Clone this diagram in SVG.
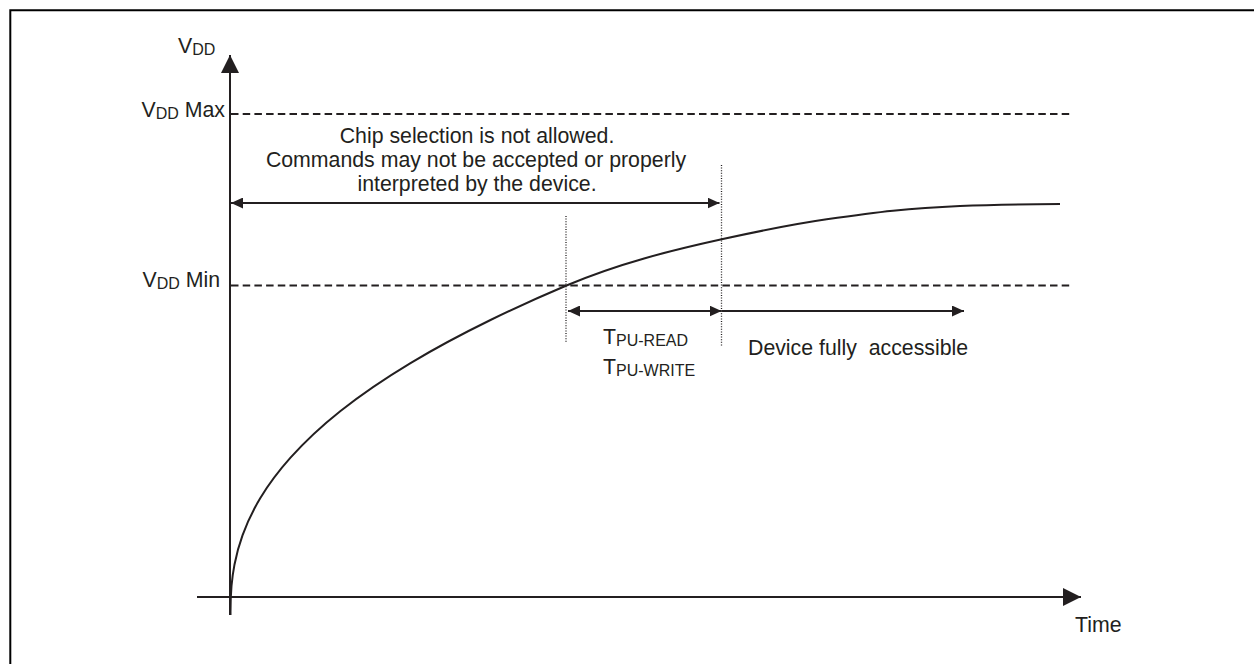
<svg xmlns="http://www.w3.org/2000/svg" width="1254" height="664" viewBox="0 0 1254 664">
<style>
.ln{stroke:#231f20;stroke-width:2;fill:none}
.dash{stroke:#231f20;stroke-width:1.8;fill:none;stroke-dasharray:7.5 4.2}
.dot{stroke:#231f20;stroke-width:1.3;fill:none;stroke-dasharray:1 1.6}
.t{font-family:"Liberation Sans",Arial,sans-serif;font-size:21.3px;fill:#231f20}
.s{font-size:16px}
</style>
<defs>
<marker id="ax" markerUnits="userSpaceOnUse" markerWidth="18" markerHeight="18" refX="18" refY="9" orient="auto">
<path d="M0,0 L18,9 L0,18 z" fill="#231f20"/>
</marker>
<marker id="ah" markerUnits="userSpaceOnUse" markerWidth="12" markerHeight="11" refX="12" refY="5.5" orient="auto-start-reverse">
<path d="M0,0 L12,5.5 L0,11 z" fill="#231f20"/>
</marker>
</defs>
<path id="frame" d="M10.3,664 V10.3 H1254" fill="none" stroke="#000" stroke-width="2"/>
<g id="guides">
<line class="dash" x1="231" y1="114" x2="1072" y2="114"/>
<line class="dash" x1="231" y1="285.5" x2="1072" y2="285.5"/>
<line class="dot" x1="566" y1="216" x2="566" y2="342"/>
<line class="dot" x1="721.5" y1="165" x2="721.5" y2="347"/>
</g>
<g id="axes">
<line class="ln" x1="230" y1="615" x2="230" y2="55" marker-end="url(#ax)"/>
<line class="ln" x1="197" y1="597" x2="1081" y2="597" marker-end="url(#ax)"/>
</g>
<g id="curve">
<path class="ln" d="M230.5,615 L230.5,612 C230.5,603.3 231.17,589.77 231.5,586 C232.5,574.69 233.5,569.67 234.5,564.5 C237.17,550.71 239.83,542.81 242.5,535.4 C248.5,518.72 254.5,507.73 260.5,497.8 C270.5,481.25 280.5,468.89 290.5,457.7 C307.17,439.05 323.83,424.23 340.5,411 C363.83,392.47 387.17,377.15 410.5,363.1 C437.17,347.05 463.83,333.04 490.5,320 C515.83,307.61 541.17,296.22 566.5,285.5 C618.23,263.62 669.97,250.68 721.7,239.3 C756.7,231.6 791.7,224.38 826.7,219.3 C848.8,216.1 870.9,212.91 893,210.7 C915.33,208.47 937.67,207 960,206 C993.33,204.5 1026.67,204.17 1060,204"/>
</g>
<g id="connectors">
<line class="ln" x1="231" y1="203" x2="719.5" y2="203" marker-start="url(#ah)" marker-end="url(#ah)"/>
<line class="ln" x1="568" y1="311" x2="721.5" y2="311" marker-start="url(#ah)" marker-end="url(#ah)"/>
<line class="ln" x1="721.5" y1="311" x2="964" y2="311" marker-end="url(#ah)"/>
</g>
<g id="label-vdd"><text class="t" x="178" y="53">V<tspan class="s" dy="2">DD</tspan></text></g>
<g id="label-vddmax"><text class="t" x="225" y="117" text-anchor="end">V<tspan class="s" dy="2">DD</tspan><tspan dy="-2"> Max</tspan></text></g>
<g id="label-vddmin"><text class="t" x="220" y="287" text-anchor="end">V<tspan class="s" dy="2">DD</tspan><tspan dy="-2"> Min</tspan></text></g>
<g id="label-chip">
<text class="t" text-anchor="middle" x="477" y="142.5">Chip selection is not allowed.</text>
<text class="t" text-anchor="middle" x="476" y="166.8">Commands may not be accepted or properly</text>
<text class="t" text-anchor="middle" x="477" y="191">interpreted by the device.</text>
</g>
<g id="label-tpu">
<text class="t" x="603" y="343.5">T<tspan class="s" dy="2">PU-READ</tspan></text>
<text class="t" x="603" y="374">T<tspan class="s" dy="2">PU-WRITE</tspan></text>
</g>
<g id="label-device"><text class="t" x="748" y="355" xml:space="preserve">Device fully  accessible</text></g>
<g id="label-time"><text class="t" x="1075" y="632">Time</text></g>
</svg>
